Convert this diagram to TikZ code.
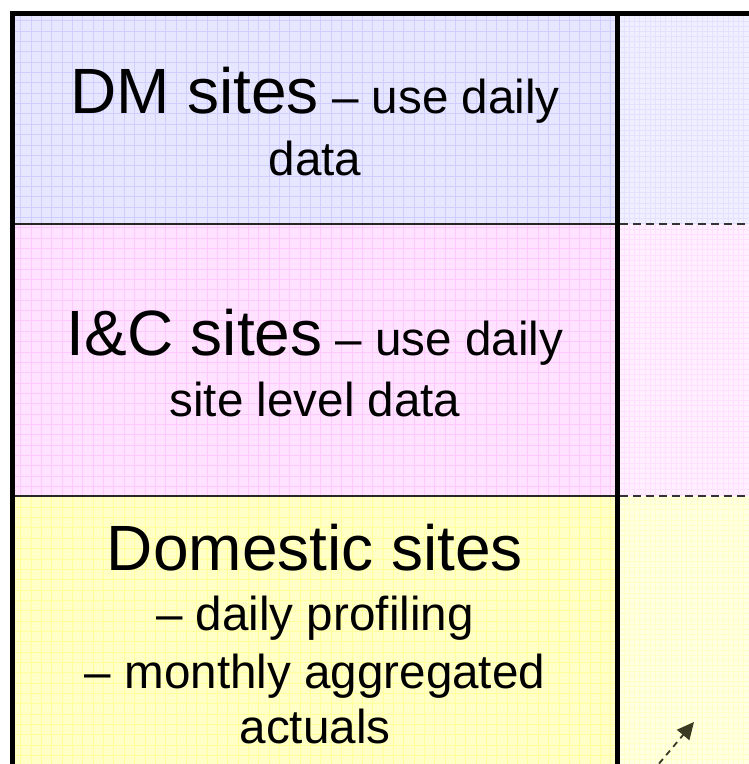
\documentclass[tikz,border=0pt]{standalone}
\usepackage{fontspec}
\setmainfont{Liberation Sans}
\usetikzlibrary{arrows.meta}

% band colours: left column, its grid, right column, its grid
\definecolor{dmL}{HTML}{E6E6FF}
\definecolor{dmLg}{HTML}{CFCFFF}
\definecolor{dmR}{HTML}{EFEFFF}
\definecolor{dmRg}{HTML}{E2E2FF}
\definecolor{icL}{HTML}{FFE2FF}
\definecolor{icLg}{HTML}{FFC8FF}
\definecolor{icR}{HTML}{FFEFFF}
\definecolor{icRg}{HTML}{FFE0FF}
\definecolor{doL}{HTML}{FFFFC6}
\definecolor{doLg}{HTML}{FFFF9C}
\definecolor{doR}{HTML}{FFFFE2}
\definecolor{doRg}{HTML}{FFFFC8}
\definecolor{arrowcol}{HTML}{3A3A22}

\tikzset{
  bigtxt/.style={font=\fontsize{64}{70}\selectfont},
  smalltxt/.style={font=\fontsize{47.6}{55}\selectfont},
  line/.style={anchor=base, inner sep=0pt},
  frame/.style={line width=5pt, black},
  rowrule/.style={line width=2pt, black!85},
  rowdash/.style={line width=1.6pt, black!80, dash pattern=on 8pt off 5pt},
  coarsegrid/.style={line width=0.8pt},
  finegrid/.style={line width=0.5pt},
  flowarrow/.style={line width=1.8pt, arrowcol, dash pattern=on 6pt off 5pt,
    -{Triangle[length=17pt,width=16pt]}}
}

\begin{document}
\begin{tikzpicture}[x=1pt,y=-1pt]
\useasboundingbox (0,0) rectangle (749,764);
\clip (0,0) rectangle (749,764);
\fill[white] (0,0) rectangle (749,764);

% left column bands with their grids
\fill[dmL] (15,16) rectangle (615,224);
\draw[dmLg, coarsegrid, step=10.35pt] (15,16) grid (615,224);
\fill[icL] (15,224) rectangle (615,496);
\draw[icLg, coarsegrid, step=10.35pt] (15,224) grid (615,496);
\fill[doL] (15,496) rectangle (615,800);
\draw[doLg, coarsegrid, step=10.35pt] (15,496) grid (615,800);

% right column bands with finer grids
\fill[dmR] (620,16) rectangle (760,224);
\draw[dmRg, finegrid, step=5.2pt] (620,16) grid (760,224);
\fill[icR] (620,224) rectangle (760,496);
\draw[icRg, finegrid, step=5.2pt] (620,224) grid (760,496);
\fill[doR] (620,496) rectangle (760,800);
\draw[doRg, finegrid, step=5.2pt] (620,496) grid (760,800);

% frame and dividers
\draw[frame] (12.5,800) -- (12.5,13) -- (760,13);
\draw[frame] (617.5,13) -- (617.5,800);
\draw[rowrule] (15,224) -- (615,224);
\draw[rowrule] (15,496) -- (615,496);
\draw[rowdash] (620,224) -- (749,224);
\draw[rowdash] (620,496) -- (749,496);

% DM row
\node[line, bigtxt] (dmA) at (315,113) {DM sites\fontsize{47.6}{55}\selectfont{} – use daily};
\node[line, smalltxt] (dmB) at (315,175) {data};

% I&C row
\node[line, bigtxt] (icA) at (315,355) {I\&C sites\fontsize{47.6}{55}\selectfont{} – use daily};
\node[line, smalltxt] (icB) at (315,416) {site level data};

% Domestic row
\node[line, bigtxt] (doA) at (315,570) {Domestic sites};
\node[line, smalltxt] (doB) at (315,630) {– daily profiling};
\node[line, smalltxt] (doC) at (315,688) {– monthly aggregated};
\node[line, smalltxt] (doD) at (315,743) {actuals};

% arrow entering from below
\coordinate (arrS) at (652,772);
\coordinate (arrE) at (694,722);
\draw[flowarrow] (arrS) -- (arrE);
\end{tikzpicture}
\end{document}
